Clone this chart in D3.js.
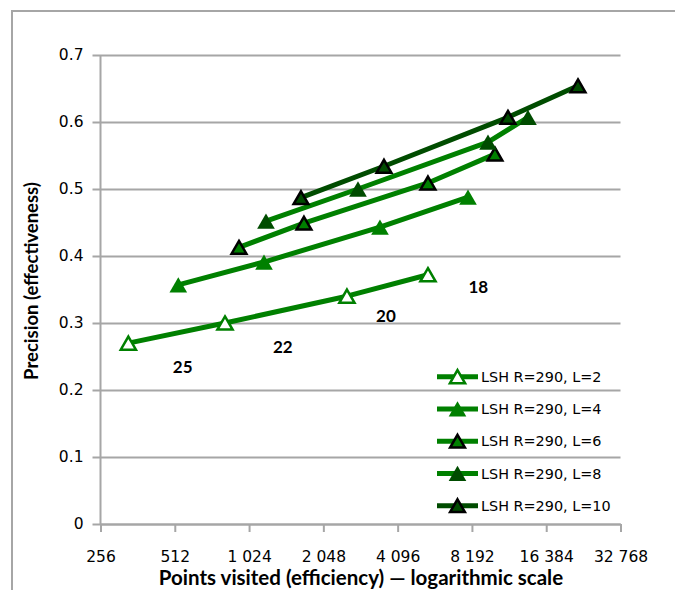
<!DOCTYPE html>
<html>
<head>
<meta charset="utf-8">
<script src="https://cdn.jsdelivr.net/npm/d3@7/dist/d3.min.js"></script>
<style>
    body { margin: 0; background: #ffffff; }
    .axis-title { font-family: Lato, "Open Sans", sans-serif; font-weight: bold; fill: #000; }
    .tick-label { font-family: "DejaVu Sans", Verdana, sans-serif; font-size: 15.5px; fill: #000; }
    .legend-text { font-family: "DejaVu Sans", Verdana, sans-serif; font-size: 14.4px; fill: #000; }
    .anno { font-family: Lato, "Open Sans", sans-serif; font-weight: bold; font-size: 17px; fill: #000; }
</style>
</head>
<body>
<div id="chart"></div>
<script>
// series names
var seriesNames = ["LSH R=290, L=2", "LSH R=290, L=4", "LSH R=290, L=6", "LSH R=290, L=8", "LSH R=290, L=10"];

// points visited (x) and precision (y) for each series
var visitedL2 = [332, 818, 2552, 5435];
var precisionL2 = [0.270, 0.300, 0.340, 0.372];

var visitedL4 = [529, 1177, 3473, 7897];
var precisionL4 = [0.357, 0.391, 0.443, 0.488];

var visitedL6 = [932, 1709, 5435, 10152];
var precisionL6 = [0.413, 0.449, 0.509, 0.552];

var visitedL8 = [1199, 2829, 9517, 13818];
var precisionL8 = [0.452, 0.500, 0.570, 0.607];

var visitedL10 = [1662, 3606, 11465, 22040];
var precisionL10 = [0.487, 0.534, 0.607, 0.654];

// free text labels in the plot
var annoLabels = ["25", "22", "20", "18"];
var annoVisited = [551, 1402, 3674, 8692];
var annoPrecision = [0.235, 0.265, 0.310, 0.354];

// axis ticks
var xTicks = [256, 512, 1024, 2048, 4096, 8192, 16384, 32768];
var yTicks = [0, 0.1, 0.2, 0.3, 0.4, 0.5, 0.6, 0.7];

var svg_size = { 'width': 675, 'height': 590 };
var plot = { 'left': 100.5, 'right': 620.5, 'top': 55, 'bottom': 524 };

var green = '#008000';
var dark_green = '#004c00';
var grid_color = '#a6a6a6';

// per series style
var series_style = [
    { line: green, fill: '#ffffff', stroke: green, size: 100, stroke_width: 2.5 },
    { line: green, fill: green, stroke: 'none', size: 135, stroke_width: 0 },
    { line: green, fill: green, stroke: '#000000', size: 95, stroke_width: 2.5 },
    { line: green, fill: dark_green, stroke: 'none', size: 135, stroke_width: 0 },
    { line: dark_green, fill: dark_green, stroke: '#000000', size: 95, stroke_width: 2.5 }
];

var series_data = [
    d3.zip(visitedL2, precisionL2),
    d3.zip(visitedL4, precisionL4),
    d3.zip(visitedL6, precisionL6),
    d3.zip(visitedL8, precisionL8),
    d3.zip(visitedL10, precisionL10)
];

var svg = d3.select('#chart')
    .append('svg')
    .attr('width', svg_size.width)
    .attr('height', svg_size.height);

// chart border
svg.append('rect')
    .attr('x', 12)
    .attr('y', 11)
    .attr('width', 700)
    .attr('height', 700)
    .style('fill', 'none')
    .style('stroke', grid_color)
    .style('stroke-width', 2);

var x_scale = d3.scaleLog()
    .base(2)
    .domain([256, 32768])
    .range([plot.left, plot.right]);

var y_scale = d3.scaleLinear()
    .domain([0, 0.7])
    .range([plot.bottom, plot.top]);

var locale = d3.formatLocale({ decimal: '.', thousands: ' ', grouping: [3], currency: ['', ''] });
var x_format = locale.format(',');

// y axis with gridlines
var y_axis = d3.axisLeft(y_scale)
    .tickValues(yTicks)
    .tickFormat(function(d){ return d === 0 ? '0' : d.toFixed(1); })
    .tickSizeInner(-(plot.right - plot.left))
    .tickSizeOuter(0)
    .tickPadding(17);

var y_axis_group = svg.append('g')
    .attr('transform', 'translate(' + plot.left + ',0)')
    .call(y_axis);

y_axis_group.select('.domain').remove();
y_axis_group.selectAll('.tick line')
    .attr('x1', -8)
    .style('stroke', grid_color)
    .style('stroke-width', 2);
y_axis_group.selectAll('.tick text')
    .attr('class', 'tick-label')
    .attr('font-size', null)
    .attr('font-family', null);

// vertical axis line
svg.append('line')
    .attr('x1', plot.left)
    .attr('x2', plot.left)
    .attr('y1', plot.top)
    .attr('y2', plot.bottom)
    .style('stroke', grid_color)
    .style('stroke-width', 2);

// x axis
var x_axis = d3.axisBottom(x_scale)
    .tickValues(xTicks)
    .tickFormat(x_format)
    .tickSizeInner(8)
    .tickSizeOuter(0)
    .tickPadding(19);

var x_axis_group = svg.append('g')
    .attr('transform', 'translate(0,' + plot.bottom + ')')
    .call(x_axis);

x_axis_group.select('.domain')
    .style('stroke', grid_color)
    .style('stroke-width', 2);
x_axis_group.selectAll('.tick line')
    .style('stroke', grid_color)
    .style('stroke-width', 2);
x_axis_group.selectAll('.tick text')
    .attr('class', 'tick-label')
    .attr('font-size', null)
    .attr('font-family', null);

// series lines
var line = d3.line()
    .x(function(d){ return x_scale(d[0]); })
    .y(function(d){ return y_scale(d[1]); });

function markerPath(size){
    return d3.symbol().type(d3.symbolTriangle).size(size)();
}

// d3 triangle is centred on its centroid, shift so box centre sits on the point
function markerShift(size){
    return Math.sqrt(size / (Math.sqrt(3) * 3)) / 2;
}

var series_group = svg.append('g');

series_data.forEach(function(points, i){
    var st = series_style[i];
    series_group.append('path')
        .datum(points)
        .attr('d', line)
        .style('fill', 'none')
        .style('stroke', st.line)
        .style('stroke-width', 5)
        .style('stroke-linejoin', 'round');
});

series_data.forEach(function(points, i){
    var st = series_style[i];
    series_group.selectAll('.marker-' + i)
        .data(points)
        .enter()
        .append('path')
        .classed('marker-' + i, true)
        .attr('d', markerPath(st.size))
        .attr('transform', function(d){
            return 'translate(' + x_scale(d[0]) + ',' + (y_scale(d[1]) + markerShift(st.size)) + ')';
        })
        .style('fill', st.fill)
        .style('stroke', st.stroke)
        .style('stroke-width', st.stroke_width)
        .style('stroke-linejoin', 'miter');
});

// annotation numbers
svg.append('g')
    .selectAll('text')
    .data(annoLabels)
    .enter()
    .append('text')
    .attr('class', 'anno')
    .attr('x', function(d, i){ return x_scale(annoVisited[i]); })
    .attr('y', function(d, i){ return y_scale(annoPrecision[i]); })
    .attr('dy', '0.36em')
    .attr('text-anchor', 'middle')
    .text(function(d){ return d; });

// legend
var legend = svg.append('g')
    .attr('transform', 'translate(437,376.7)');

var legend_item = legend.selectAll('.legend-item')
    .data(seriesNames)
    .enter()
    .append('g')
    .classed('legend-item', true)
    .attr('transform', function(d, i){ return 'translate(0,' + (32.25 * i) + ')'; });

legend_item.append('line')
    .attr('x1', 0)
    .attr('x2', 41)
    .attr('y1', 0)
    .attr('y2', 0)
    .style('stroke', function(d, i){ return series_style[i].line; })
    .style('stroke-width', 5);

legend_item.append('path')
    .attr('d', function(d, i){ return markerPath(series_style[i].size); })
    .attr('transform', function(d, i){ return 'translate(20.5,' + markerShift(series_style[i].size) + ')'; })
    .style('fill', function(d, i){ return series_style[i].fill; })
    .style('stroke', function(d, i){ return series_style[i].stroke; })
    .style('stroke-width', function(d, i){ return series_style[i].stroke_width; });

legend_item.append('text')
    .attr('class', 'legend-text')
    .attr('x', 44)
    .attr('y', 0)
    .attr('dy', '0.36em')
    .text(function(d){ return d; });

// axis titles
svg.append('text')
    .attr('class', 'axis-title')
    .attr('transform', 'translate(38,281) rotate(-90)')
    .attr('text-anchor', 'middle')
    .style('font-size', '18.5px')
    .text('Precision (effectiveness)');

svg.append('text')
    .attr('class', 'axis-title')
    .attr('x', 361)
    .attr('y', 585)
    .attr('text-anchor', 'middle')
    .style('font-size', '20.5px')
    .text('Points visited (efficiency)  \u2014  logarithmic scale');
</script>
</body>
</html>
